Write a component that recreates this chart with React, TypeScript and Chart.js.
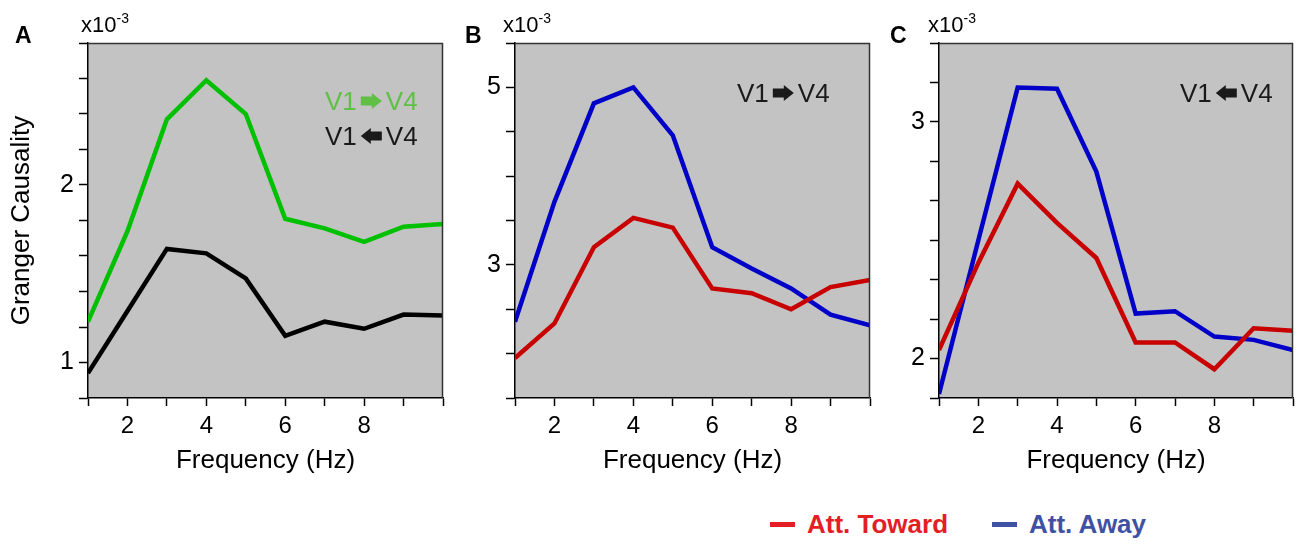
import React, { useEffect, useRef } from 'react';
import { Chart, registerables } from 'chart.js';

Chart.register(...registerables);

const FONT = '"Liberation Sans", Arial, Helvetica, sans-serif';

// ---- data ----
const FREQ = [1, 2, 3, 4, 5, 6, 7, 8, 9, 10];
const X_TICKS = [1, 2, 3, 4, 5, 6, 7, 8, 9, 10];
const X_LABELS = [2, 4, 6, 8];

const A_FEEDFORWARD = [1.23, 1.74, 2.37, 2.59, 2.4, 1.81, 1.756, 1.68, 1.765, 1.78];
const A_FEEDBACK = [0.94, 1.29, 1.64, 1.615, 1.474, 1.15, 1.23, 1.19, 1.27, 1.265];
const A_Y_TICKS = [0.8, 1.0, 1.2, 1.4, 1.6, 1.8, 2.0, 2.2, 2.4, 2.6, 2.8];
const A_Y_LABELS = [1, 2];

const B_TOWARD = [1.95, 2.34, 3.2, 3.53, 3.42, 2.735, 2.68, 2.5, 2.75, 2.83];
const B_AWAY = [2.36, 3.71, 4.82, 5.0, 4.46, 3.2, 2.96, 2.735, 2.44, 2.32];
const B_Y_TICKS = [1.5, 2, 2.5, 3, 3.5, 4, 4.5, 5, 5.5];
const B_Y_LABELS = [3, 5];

const C_TOWARD = [2.036, 2.404, 2.739, 2.573, 2.425, 2.068, 2.068, 1.955, 2.128, 2.117];
const C_AWAY = [1.85, 2.5, 3.145, 3.14, 2.79, 2.19, 2.2, 2.093, 2.079, 2.036];
const C_Y_TICKS = [11 / 6, 2, 13 / 6, 14 / 6, 15 / 6, 16 / 6, 17 / 6, 3, 19 / 6, 20 / 6];
const C_Y_LABELS = [2, 3];

const LEGEND_LABELS = ['Att. Toward', 'Att. Away'];

const COL_GREEN = '#00c000';
const COL_BLACK = '#000000';
const COL_RED = '#c80000';
const COL_BLUE = '#0000c8';
const COL_TEXT_GREEN = '#5fc045';
const COL_TEXT_DARK = '#1a1a1a';
const COL_LEG_RED = '#e31e24';
const COL_LEG_BLUE = '#3f51a3';

type Note = { x: number; y: number; color: string; dir: 'right' | 'left' };

type PanelCfg = {
  left: number;
  width: number;
  height: number;
  yWidth: number;
  padRight: number;
  yMin: number;
  yMax: number;
  yTicks: number[];
  yLabels: number[];
  yTitle?: string;
  letter: string;
  letterX: number;
  expX: number;
  notes: Note[];
  series: { data: number[]; color: string }[];
};

function drawArrowLabel(ctx: CanvasRenderingContext2D, n: Note) {
  ctx.save();
  ctx.font = `26px ${FONT}`;
  ctx.fillStyle = n.color;
  ctx.textAlign = 'left';
  ctx.textBaseline = 'alphabetic';
  ctx.fillText('V1', n.x, n.y);
  const w1 = ctx.measureText('V1').width;
  const ax = n.x + w1 + 4;
  const aw = 21;
  const cy = n.y - 9;
  ctx.beginPath();
  if (n.dir === 'right') {
    ctx.moveTo(ax, cy - 4.5);
    ctx.lineTo(ax + 11, cy - 4.5);
    ctx.lineTo(ax + 11, cy - 8);
    ctx.lineTo(ax + aw, cy);
    ctx.lineTo(ax + 11, cy + 8);
    ctx.lineTo(ax + 11, cy + 4.5);
    ctx.lineTo(ax, cy + 4.5);
  } else {
    ctx.moveTo(ax + aw, cy - 4.5);
    ctx.lineTo(ax + 10, cy - 4.5);
    ctx.lineTo(ax + 10, cy - 8);
    ctx.lineTo(ax, cy);
    ctx.lineTo(ax + 10, cy + 8);
    ctx.lineTo(ax + 10, cy + 4.5);
    ctx.lineTo(ax + aw, cy + 4.5);
  }
  ctx.closePath();
  ctx.fill();
  ctx.fillText('V4', ax + aw + 4, n.y);
  ctx.restore();
}

function makeDeco(cfg: PanelCfg) {
  return {
    id: 'deco' + cfg.letter,
    beforeDraw(chart: any) {
      const { ctx, chartArea: a } = chart;
      ctx.save();
      ctx.fillStyle = '#c3c3c3';
      ctx.fillRect(a.left, a.top, a.right - a.left, a.bottom - a.top);
      ctx.restore();
    },
    afterDraw(chart: any) {
      const { ctx, chartArea: a } = chart;
      ctx.save();
      ctx.strokeStyle = '#333';
      ctx.lineWidth = 1.5;
      ctx.beginPath();
      ctx.moveTo(a.left, a.top + 0.5);
      ctx.lineTo(a.right - 0.5, a.top + 0.5);
      ctx.lineTo(a.right - 0.5, a.bottom);
      ctx.stroke();
      // panel letter
      ctx.fillStyle = '#000';
      ctx.textBaseline = 'alphabetic';
      ctx.textAlign = 'left';
      ctx.font = `bold 23px ${FONT}`;
      ctx.fillText(cfg.letter, cfg.letterX, 43);
      // exponent label
      ctx.font = `22px ${FONT}`;
      ctx.fillText('x10', cfg.expX, 32);
      const w = ctx.measureText('x10').width;
      ctx.font = `14px ${FONT}`;
      ctx.fillText('-3', cfg.expX + w, 23);
      ctx.restore();
      cfg.notes.forEach((n) => drawArrowLabel(ctx, n));
    },
  };
}

function near(list: number[], v: number) {
  return list.some((t) => Math.abs(t - v) < 1e-6);
}

function Panel({ cfg }: { cfg: PanelCfg }) {
  const ref = useRef<HTMLCanvasElement>(null);
  useEffect(() => {
    if (!ref.current) return;
    const chart = new Chart(ref.current, {
      type: 'line',
      data: {
        labels: FREQ,
        datasets: cfg.series.map((s) => ({
          data: FREQ.map((f, i) => ({ x: f, y: s.data[i] })),
          borderColor: s.color,
          backgroundColor: s.color,
          borderWidth: 4.5,
          pointRadius: 0,
          tension: 0,
          fill: false,
        })),
      },
      options: {
        animation: false,
        responsive: false,
        maintainAspectRatio: false,
        layout: { padding: { left: 0, right: cfg.padRight, top: 43, bottom: 0 } },
        plugins: { legend: { display: false }, tooltip: { enabled: false } },
        scales: {
          x: {
            type: 'linear',
            min: 1,
            max: 10,
            afterBuildTicks: (ax: any) => {
              ax.ticks = X_TICKS.map((v) => ({ value: v }));
            },
            afterFit: (ax: any) => {
              ax.height = cfg.height - 398;
            },
            ticks: {
              autoSkip: false,
              maxRotation: 0,
              padding: 6,
              color: '#000',
              font: { family: FONT, size: 24 },
              callback: (v: any) => (near(X_LABELS, Number(v)) ? String(v) : ''),
            },
            grid: { drawOnChartArea: false, drawTicks: true, tickLength: 8, tickColor: '#000', tickWidth: 1.5 },
            border: { display: true, color: '#000', width: 1.5 },
            title: {
              display: true,
              text: 'Frequency (Hz)',
              color: '#000',
              font: { family: FONT, size: 26 },
              padding: { top: 0, bottom: 14 },
            },
          },
          y: {
            type: 'linear',
            min: cfg.yMin,
            max: cfg.yMax,
            afterBuildTicks: (ax: any) => {
              ax.ticks = cfg.yTicks.map((v) => ({ value: v }));
            },
            afterFit: (ax: any) => {
              ax.width = cfg.yWidth;
            },
            ticks: {
              autoSkip: false,
              padding: 5,
              color: '#000',
              font: { family: FONT, size: 25 },
              callback: (v: any) => {
                const n = Number(v);
                const hit = cfg.yLabels.find((t) => Math.abs(t - n) < 1e-6);
                return hit !== undefined ? String(hit) : '';
              },
            },
            grid: { drawOnChartArea: false, drawTicks: true, tickLength: 9, tickColor: '#000', tickWidth: 1.5 },
            border: { display: true, color: '#000', width: 1.5 },
            title: {
              display: !!cfg.yTitle,
              text: cfg.yTitle || '',
              color: '#000',
              font: { family: FONT, size: 26 },
              padding: { top: 6, bottom: 0 },
            },
          },
        },
      },
      plugins: [makeDeco(cfg)],
    } as any);
    return () => chart.destroy();
  }, [cfg]);
  return (
    <canvas
      ref={ref}
      width={cfg.width}
      height={cfg.height}
      style={{ position: 'absolute', left: cfg.left, top: 0, width: cfg.width, height: cfg.height }}
    />
  );
}

const PANELS: PanelCfg[] = [
  {
    left: 0,
    width: 460,
    height: 490,
    yWidth: 88,
    padRight: 17,
    yMin: 0.8,
    yMax: 2.8,
    yTicks: A_Y_TICKS,
    yLabels: A_Y_LABELS,
    yTitle: 'Granger Causality',
    letter: 'A',
    letterX: 15,
    expX: 81,
    notes: [
      { x: 325, y: 110, color: COL_TEXT_GREEN, dir: 'right' },
      { x: 325, y: 145, color: COL_TEXT_DARK, dir: 'left' },
    ],
    series: [
      { data: A_FEEDFORWARD, color: COL_GREEN },
      { data: A_FEEDBACK, color: COL_BLACK },
    ],
  },
  {
    left: 445,
    width: 440,
    height: 490,
    yWidth: 70,
    padRight: 15,
    yMin: 1.5,
    yMax: 5.5,
    yTicks: B_Y_TICKS,
    yLabels: B_Y_LABELS,
    letter: 'B',
    letterX: 20,
    expX: 58,
    notes: [{ x: 292, y: 102, color: COL_TEXT_DARK, dir: 'right' }],
    series: [
      { data: B_TOWARD, color: COL_RED },
      { data: B_AWAY, color: COL_BLUE },
    ],
  },
  {
    left: 880,
    width: 419,
    height: 490,
    yWidth: 59,
    padRight: 3,
    yMin: 11 / 6,
    yMax: 20 / 6,
    yTicks: C_Y_TICKS,
    yLabels: C_Y_LABELS,
    letter: 'C',
    letterX: 10,
    expX: 48,
    notes: [{ x: 300, y: 102, color: COL_TEXT_DARK, dir: 'left' }],
    series: [
      { data: C_TOWARD, color: COL_RED },
      { data: C_AWAY, color: COL_BLUE },
    ],
  },
];

export default function App() {
  const legendItem = (label: string, color: string, left: number) => (
    <div
      style={{
        position: 'absolute',
        left,
        top: 507,
        display: 'flex',
        alignItems: 'center',
        fontFamily: FONT,
        fontWeight: 'bold',
        fontSize: 26,
        color,
        whiteSpace: 'nowrap',
        lineHeight: '34px',
      }}
    >
      <span style={{ display: 'inline-block', width: 25, height: 5, background: color, marginRight: 12 }} />
      <span>{label}</span>
    </div>
  );
  return (
    <div style={{ position: 'fixed', left: 0, top: 0, width: 1299, height: 545, background: '#fff', overflow: 'hidden' }}>
      {PANELS.map((p) => (
        <Panel key={p.letter} cfg={p} />
      ))}
      {legendItem(LEGEND_LABELS[0], COL_LEG_RED, 770)}
      {legendItem(LEGEND_LABELS[1], COL_LEG_BLUE, 992)}
    </div>
  );
}
